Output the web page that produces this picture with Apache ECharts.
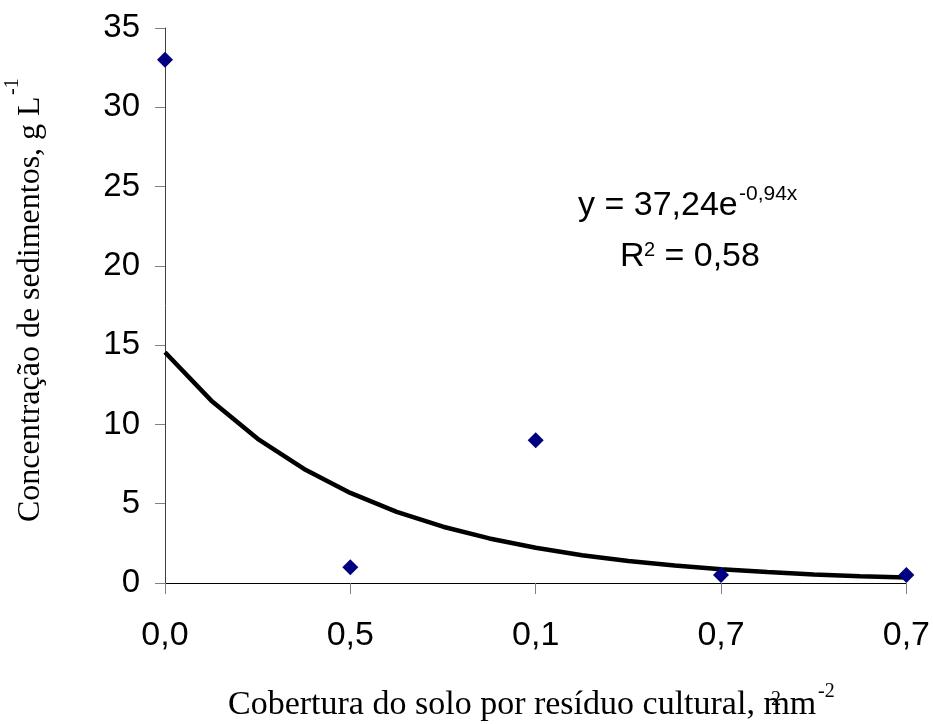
<!DOCTYPE html>
<html>
<head>
<meta charset="utf-8">
<script src="https://cdn.jsdelivr.net/npm/echarts@6/dist/echarts.min.js"></script>
<style>
  html, body { margin: 0; padding: 0; background: #fff; }
  #chart { width: 933px; height: 724px; }
</style>
</head>
<body>
<div id="chart"></div>
<script>
// Category positions (1..5) and their printed tick labels
const xPositions = [1, 2, 3, 4, 5];
const xTickLabels = ['0,0', '0,5', '0,1', '0,7', '0,7'];

// Observed sediment concentration (g L-1)
const observed = [33, 1, 9, 0.5, 0.5];

// Exponential trend line, sampled at quarter steps along the axis
const trendX = [1, 1.25, 1.5, 1.75, 2, 2.25, 2.5, 2.75, 3, 3.25, 3.5, 3.75, 4, 4.25, 4.5, 4.75, 5];
const trendY = [14.55, 11.5, 9.09, 7.19, 5.68, 4.49, 3.55, 2.81, 2.22, 1.75, 1.39, 1.1, 0.87, 0.69, 0.54, 0.43, 0.34];

const yTicks = { min: 0, max: 35, interval: 5 };

const chart = echarts.init(document.getElementById('chart'));

const sans = 'Liberation Sans, Arial, sans-serif';
const serif = 'Liberation Serif, Times New Roman, serif';

// small helper for free-standing text pieces
function txt(text, x, y, size, family, extra) {
  return Object.assign({
    type: 'text',
    x: x,
    y: y,
    silent: true,
    style: {
      text: text,
      fontFamily: family,
      fontSize: size,
      fill: '#000',
      align: 'left',
      verticalAlign: 'middle'
    }
  }, extra || {});
}

chart.setOption({
  animation: false,
  backgroundColor: '#ffffff',
  grid: { left: 165, right: 24, top: 28, bottom: 141, containLabel: false },
  xAxis: {
    type: 'value',
    min: 1,
    max: 5,
    interval: 1,
    axisLine: { show: true, onZero: false, lineStyle: { color: '#000', width: 1 } },
    axisTick: { show: true, length: 11, lineStyle: { color: '#808080', width: 1 } },
    splitLine: { show: false },
    axisLabel: {
      margin: 36,
      fontFamily: sans,
      fontSize: 34,
      color: '#000',
      formatter: v => xTickLabels[xPositions.indexOf(v)] || ''
    }
  },
  yAxis: {
    type: 'value',
    min: yTicks.min,
    max: yTicks.max,
    interval: yTicks.interval,
    axisLine: { show: true, lineStyle: { color: '#404040', width: 1 } },
    axisTick: { show: true, length: 10, lineStyle: { color: '#808080', width: 1 } },
    splitLine: { show: false },
    axisLabel: { margin: 25, fontFamily: sans, fontSize: 33, color: '#000' }
  },
  series: [
    {
      type: 'line',
      data: trendX.map((x, i) => [x, trendY[i]]),
      symbol: 'none',
      smooth: false,
      lineStyle: { color: '#000', width: 4.5 },
      z: 2
    },
    {
      type: 'scatter',
      data: xPositions.map((x, i) => [x, observed[i]]),
      symbol: 'diamond',
      symbolSize: [16, 16],
      itemStyle: { color: '#000080', opacity: 1 },
      z: 3
    }
  ],
  graphic: [
    // Trend equation and coefficient of determination
    txt('y = 37,24e', 578, 205.6, 34, sans),
    txt('-0,94x', 739, 194.7, 21, sans),
    txt('R', 620, 256.6, 34, sans),
    txt('2', 644, 250.4, 20, sans),
    txt(' = 0,58', 655, 256.6, 34, sans),
    // Y axis title (reads bottom to top)
    txt('Concentração de sedimentos, g L', 31, 522, 32, serif, { rotation: Math.PI / 2 }),
    txt('-1', 13, 95, 20, serif, { rotation: Math.PI / 2 }),
    // X axis title
    txt('Cobertura do solo por resíduo cultural, mm', 228, 705.5, 34, serif),
    txt('2', 771, 700, 20, serif),
    txt('-2', 818, 692, 20, serif)
  ]
});
</script>
</body>
</html>
